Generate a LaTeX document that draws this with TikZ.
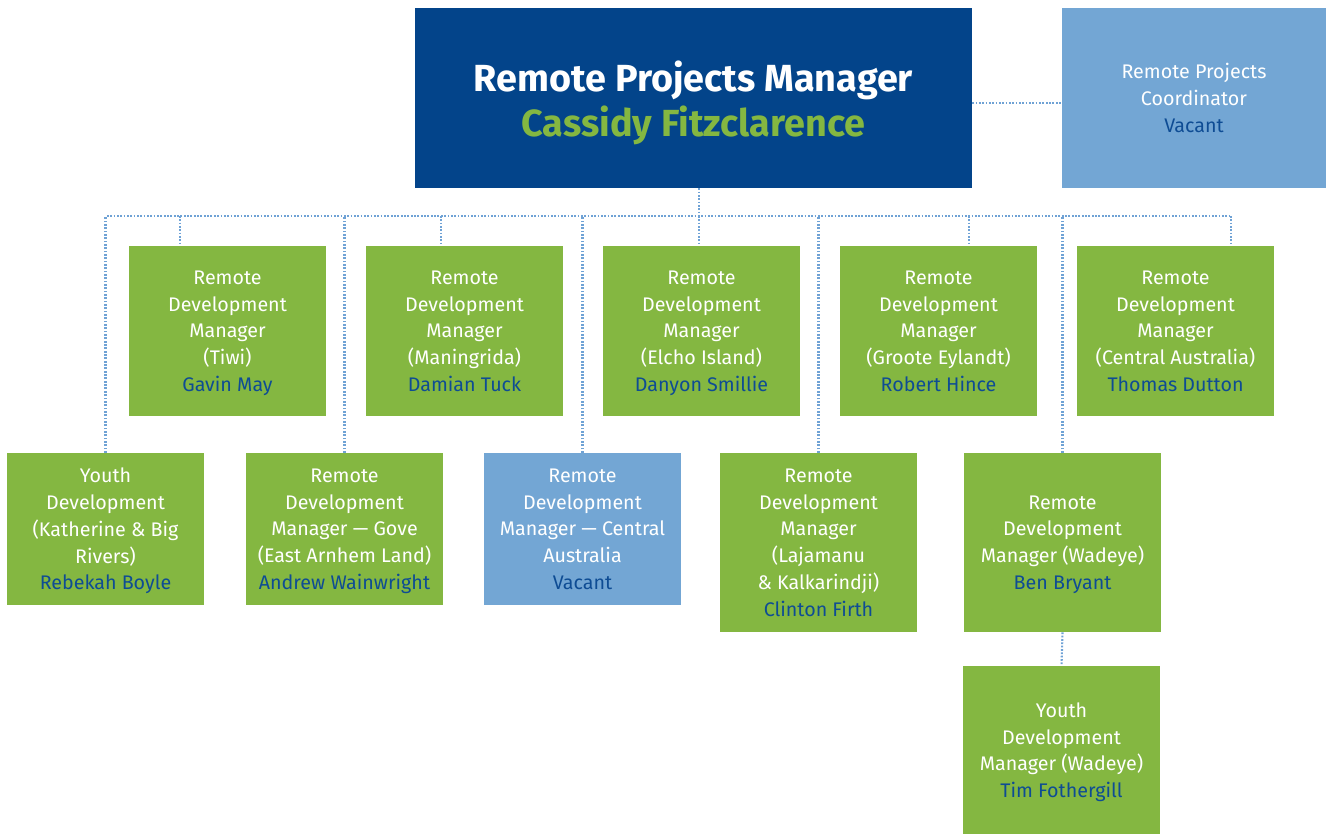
\documentclass[tikz,border=0pt]{standalone}
\usepackage{fontspec}
\setmainfont{Fira Sans}
\usetikzlibrary{positioning}

\definecolor{boxgreen}{HTML}{84B741}
\definecolor{boxnavy}{HTML}{03448A}
\definecolor{boxsky}{HTML}{73A6D4}
\definecolor{namecol}{HTML}{0E4C94}
\definecolor{linkcol}{HTML}{6FA2D5}

\tikzset{
  role/.style={fill=boxgreen, text=white, align=center, inner sep=0pt,
    minimum width=3.94cm, font=\fontsize{11.2}{15.2}\selectfont,
    text depth=-6.6pt},
  vacant/.style={role, fill=boxsky},
  link/.style={linkcol, line width=1.2pt, dash pattern=on 1pt off 0.9pt}
}
\newcommand{\staff}[1]{\textcolor{namecol}{#1}}

\begin{document}
\begin{tikzpicture}[x=0.02cm, y=-0.02cm]
\useasboundingbox (0,0) rectangle (1327,835);

% Top level
\node[fill=boxnavy, inner sep=0pt, minimum width=11.14cm, minimum height=3.6cm]
  (mgr) at (693.5,98) {};
\node[text=white, align=center, inner sep=0pt,
  font=\fontsize{21.5}{25.6}\selectfont\bfseries] (mgrtext) at (693.5,103)
  {Remote Projects Manager\\\textcolor{boxgreen}{Cassidy Fitzclarence}};
\node[vacant, minimum width=5.28cm, minimum height=3.6cm] (coord) at (1194,98)
  {Remote Projects\\Coordinator\\\staff{Vacant}};

% First row
\node[role, minimum height=3.4cm] (tiwi) at (227.5,331)
  {Remote\\Development\\Manager\\(Tiwi)\\\staff{Gavin May}};
\node[role, minimum height=3.4cm] (maning) at (464.5,331)
  {Remote\\Development\\Manager\\(Maningrida)\\\staff{Damian Tuck}};
\node[role, minimum height=3.4cm] (elcho) at (701.5,331)
  {Remote\\Development\\Manager\\(Elcho Island)\\\staff{Danyon Smillie}};
\node[role, minimum height=3.4cm] (groote) at (938.5,331)
  {Remote\\Development\\Manager\\(Groote Eylandt)\\\staff{Robert Hince}};
\node[role, minimum height=3.4cm] (central) at (1175.5,331)
  {Remote\\Development\\Manager\\(Central Australia)\\\staff{Thomas Dutton}};

% Second row
\node[role, minimum height=3.04cm] (youthK) at (105.5,529)
  {Youth\\Development\\(Katherine \& Big\\Rivers)\\\staff{Rebekah Boyle}};
\node[role, minimum height=3.04cm] (gove) at (344.5,529)
  {Remote\\Development\\Manager --- Gove\\(East Arnhem Land)\\\staff{Andrew Wainwright}};
\node[vacant, minimum height=3.04cm] (centralV) at (582.5,529)
  {Remote\\Development\\Manager --- Central\\Australia\\\staff{Vacant}};
\node[role, minimum height=3.58cm] (laja) at (818.5,542.5)
  {Remote\\Development\\Manager\\(Lajamanu\\\& Kalkarindji)\\\staff{Clinton Firth}};
\node[role, minimum height=3.58cm] (wadeye) at (1062.5,542.5)
  {Remote\\Development\\Manager (Wadeye)\\\staff{Ben Bryant}};

% Third row
\node[role, minimum height=3.36cm] (youthW) at (1061.5,750)
  {Youth\\Development\\Manager (Wadeye)\\\staff{Tim Fothergill}};

% Dotted reporting lines
\coordinate (barL) at (107,216);
\coordinate (barR) at (1231,216);
\draw[link] ([yshift=-0.1cm]mgr.east) -- ([yshift=-0.1cm]coord.west);
\draw[link] ([xshift=0.11cm]mgr.south) -- ([xshift=0.11cm]mgr.south |- barL);
\draw[link] (barL) -- (barR);
\foreach \n/\x in {tiwi/180, maning/441, elcho/699, groote/969, central/1231} {
  \coordinate (drop-\n) at (\x,216);
  \draw[link] (drop-\n) -- (drop-\n |- \n.north);
}
\foreach \n in {youthK, gove, centralV, laja, wadeye}
  \draw[link] (\n.north) -- (\n.north |- barL);
\draw[link] (wadeye.south) -- (youthW.north);
\end{tikzpicture}
\end{document}
